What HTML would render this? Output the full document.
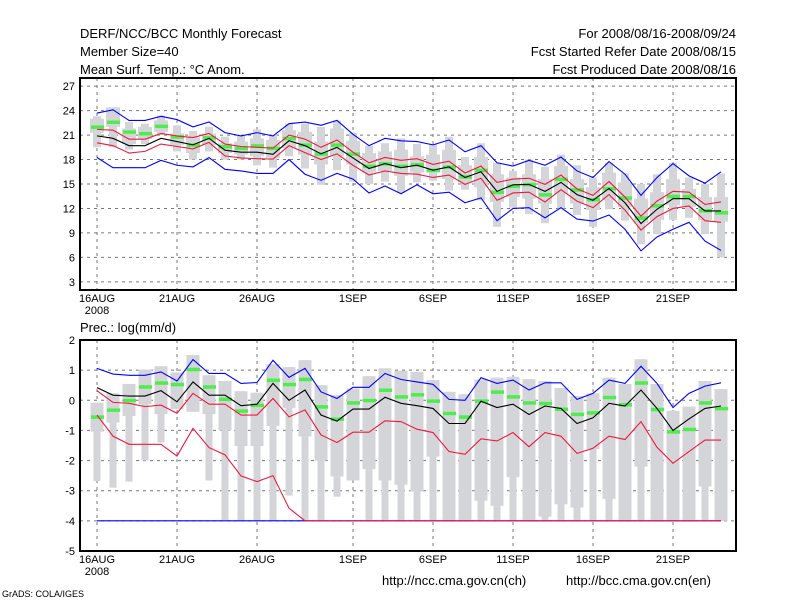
<!DOCTYPE html>
<html><head><meta charset="utf-8">
<style>
body{margin:0;background:#fff;}
svg{display:block;font-family:"Liberation Sans",sans-serif;}
</style></head>
<body>
<svg id="chart" width="800" height="600" viewBox="0 0 800 600">
<rect width="800" height="600" fill="#fff"/>
<g font-size="13" fill="#000">
<text x="80" y="38">DERF/NCC/BCC Monthly Forecast</text>
<text x="80" y="56">Member Size=40</text>
<text x="80" y="74">Mean Surf. Temp.: °C Anom.</text>
<text x="736" y="38" text-anchor="end">For 2008/08/16-2008/09/24</text>
<text x="736" y="56" text-anchor="end">Fcst Started Refer Date 2008/08/15</text>
<text x="736" y="74" text-anchor="end">Fcst Produced Date 2008/08/16</text>
<text x="80" y="332">Prec.: log(mm/d)</text>
<text x="382" y="585">http://ncc.cma.gov.cn(ch)</text>
<text x="566" y="585">http://bcc.cma.gov.cn(en)</text>
<text x="2" y="597" font-size="9">GrADS: COLA/IGES</text>
</g>
<g id="top"></g>
<g id="bot"></g>
</svg>
<script>
// ---- temperature panel data (days 0..39 from 16AUG)
const tMax=[23.3,24.4,22.6,22.4,23.4,22.2,21.5,22.0,20.8,20.9,21.7,21.0,22.4,22.4,22.0,22.8,21.3,19.7,20.0,20.6,19.9,19.9,20.8,18.3,20.0,17.6,16.6,18.0,17.1,18.6,17.3,15.8,17.6,16.3,15.0,16.2,17.6,15.8,15.0,16.3];
const tQ3=[23.0,24.4,21.8,22.0,22.8,21.2,20.7,21.2,20.0,20.2,20.6,20.4,21.6,21.4,20.2,21.8,20.3,18.8,19.0,19.2,18.4,18.6,19.2,17.3,18.3,16.2,15.8,16.2,15.6,17.2,15.6,14.6,16.4,15.2,13.2,14.0,15.6,14.4,13.4,13.4];
const tQ1=[21.3,22.0,19.9,20.5,21.4,19.8,18.8,19.8,18.8,18.6,18.4,18.2,19.4,18.6,17.4,18.4,17.4,16.4,16.6,16.0,16.4,16.4,15.6,15.2,14.6,12.8,13.4,13.2,12.6,13.8,12.6,11.8,13.0,12.2,10.2,10.6,12.4,12.2,10.6,10.4];
const tMin=[19.5,19.5,19.2,19.9,21.0,19.0,18.0,19.0,18.0,18.0,17.3,17.0,18.4,16.9,14.9,16.7,15.3,15.0,15.3,13.9,15.2,15.4,14.2,14.3,13.0,9.75,12.1,11.3,10.2,12.0,11.2,9.75,11.9,10.5,7.6,8.85,10.6,10.85,8.85,6.0];
const tGreen=[22.0,22.6,21.4,21.2,22.1,20.8,19.8,20.7,19.6,19.4,19.7,19.4,20.6,19.8,18.7,19.8,18.7,17.2,17.5,17.2,17.4,16.7,17.1,15.9,16.7,14.0,14.75,14.95,13.7,15.6,14.3,13.1,14.45,13.3,10.85,12.35,13.5,13.5,11.75,11.5];
const tMean=[20.9,20.6,19.7,19.7,20.6,20.2,19.8,20.6,19.15,18.9,18.9,18.65,20.3,19.7,18.7,19.5,18.2,16.9,17.5,17.0,17.3,16.7,17.1,15.8,16.5,14.1,14.9,14.95,14.1,15.2,13.7,13.0,14.45,12.7,10.15,11.9,13.2,13.2,11.7,11.7];
const tRedUp=[21.7,21.6,20.5,20.5,21.2,20.9,20.7,21.2,19.9,19.6,19.5,19.4,21.0,20.5,19.5,20.4,18.9,17.6,18.25,17.9,18.1,17.4,17.8,16.35,17.2,15.2,15.6,15.7,14.95,16.1,14.4,13.6,15.3,13.4,11.05,12.9,14.1,14.0,12.5,12.8];
const tRedLo=[20.05,19.7,18.8,19.0,19.9,19.6,19.3,20.1,18.45,18.2,18.1,18.05,19.7,18.85,18.0,18.7,17.3,16.1,16.6,16.3,16.2,15.8,16.1,14.95,15.7,13.0,13.9,14.0,12.8,14.3,12.9,12.1,13.7,11.8,9.35,11.0,12.0,12.3,10.5,10.3];
const tBlueUp=[23.7,24.1,22.8,22.8,23.3,22.9,22.0,22.6,21.3,20.9,21.3,20.9,22.4,22.6,22.2,22.8,21.1,19.7,20.6,20.3,20.2,19.8,20.4,18.95,19.7,17.6,17.2,17.9,17.3,18.3,16.6,15.8,17.75,16.2,13.6,15.8,17.5,16.0,15.1,16.5];
const tBlueLo=[18.25,17.0,17.0,17.0,17.9,17.3,17.1,18.25,16.8,16.6,16.3,16.3,18.0,16.2,15.45,16.3,15.6,13.9,14.75,13.8,14.9,13.8,14.0,12.7,13.3,10.5,12.0,12.1,10.85,12.1,10.7,10.45,11.2,9.45,6.8,8.5,9.45,10.3,8.0,6.85];
const tTicks=[3,6,9,12,15,18,21,24,27];
// ---- precipitation panel data
const pMax=[-0.08,0.23,0.54,1.02,1.13,0.92,1.5,0.83,0.64,0.3,0.25,1.2,1.1,1.33,0.5,0.17,0.39,0.8,1.06,0.98,0.94,0.67,0.28,0.2,0.69,0.75,0.78,0.7,0.64,0.41,0.14,0.23,0.75,0.54,1.36,0.54,-0.35,-0.21,0.64,0.37];
const pQ1=[-1.04,-0.74,-0.52,-0.13,-0.46,-0.29,-0.38,-0.46,-1.0,-1.52,-1.52,-0.85,-0.25,-1.2,-2.0,-2.53,-2.66,-2.28,-2.66,-2.8,-3.03,-1.87,-4,-4,-3.33,-3.5,-2.55,-4,-3.86,-3.45,-3.56,-1.62,-3.27,-4,-2.2,-4,-4,-4,-2.86,-4];
const pMin=[-2.68,-2.9,-2.7,-2.0,-1.4,-0.29,-0.38,-2.66,-3.97,-4,-4,-4,-3.16,-4,-4,-3.2,-2.66,-4,-4,-4,-4,-4,-4,-4,-4,-4,-4,-4,-4,-4,-4,-4,-4,-4,-4,-4,-4,-4,-4,-4];
const pGreen=[-0.55,-0.32,0,0.45,0.58,0.53,1.03,0.45,0.04,-0.35,-0.16,0.67,0.53,0.7,-0.21,-0.62,-0.08,0,0.34,0.12,0.19,-0.02,-0.43,-0.55,-0.02,0.28,0.12,-0.08,-0.1,-0.29,-0.46,-0.41,0.1,-0.14,0.58,-0.3,-1.04,-0.96,-0.08,-0.27];
const pMean=[0.42,0.17,0.14,0.14,0.32,-0.05,0.61,0.17,0.17,-0.18,-0.13,0.56,0,0.34,-0.49,-0.69,-0.29,-0.29,0.1,-0.1,-0.18,-0.27,-0.77,-0.77,-0.03,-0.24,-0.13,-0.47,-0.19,-0.27,-0.77,-0.58,-0.1,-0.19,0.34,-0.27,-1.0,-0.62,-0.27,-0.19];
const pRedUp=[0.32,-0.07,-0.1,-0.21,-0.16,-0.43,0.23,-0.13,-0.13,-0.49,-0.49,0.06,-0.55,-0.32,-1.15,-1.4,-1.06,-1.06,-0.68,-0.71,-0.96,-1.07,-1.7,-1.79,-1.28,-1.35,-1.07,-1.54,-1.07,-1.19,-1.76,-1.59,-1.19,-1.3,-0.71,-1.56,-2.09,-1.7,-1.32,-1.32];
const pRedLo=[-0.49,-1.19,-1.46,-1.46,-1.46,-1.85,-0.93,-1.57,-1.81,-2.51,-2.7,-2.5,-3.58,-4,-4,-4,-4,-4,-4,-4,-4,-4,-4,-4,-4,-4,-4,-4,-4,-4,-4,-4,-4,-4,-4,-4,-4,-4,-4,-4];
const pBlueUp=[1.06,0.87,0.83,0.83,0.94,0.64,1.35,0.89,0.89,0.56,0.59,1.33,0.76,1.06,0.28,0.06,0.43,0.43,0.89,0.69,0.61,0.53,0.03,0.0,0.75,0.56,0.67,0.34,0.58,0.58,0.03,0.23,0.67,0.56,1.13,0.56,-0.24,0.23,0.47,0.58];
const pBlueLo=[-4,-4,-4,-4,-4,-4,-4,-4,-4,-4,-4,-4,-4,-4,-4,-4,-4,-4,-4,-4,-4,-4,-4,-4,-4,-4,-4,-4,-4,-4,-4,-4,-4,-4,-4,-4,-4,-4,-4,-4];
const pTicks=[-5,-4,-3,-2,-1,0,1,2];
const xTickDays=[0,5,10,16,21,26,31,36];
const xTickLabels=["16AUG","21AUG","26AUG","1SEP","6SEP","11SEP","16SEP","21SEP"];

const NS="http://www.w3.org/2000/svg";
function mk(tag,attrs,parent){const e=document.createElementNS(NS,tag);for(const k in attrs)e.setAttribute(k,attrs[k]);parent.appendChild(e);return e;}
const X0=80,X1=736;
function xs(d){return 97+16*d;}

function panel(g,top,bot,vmin,vmax,ticks,mx,q3,q1,mn,green,mean,rU,rL,bU,bL,wide,narrow,prefix){
  const ys=v=>top+(vmax-v)*(bot-top)/(vmax-vmin);
  // grid
  ticks.forEach(t=>{
    if(t>vmin&&t<vmax){const l=mk('line',{x1:X0,x2:X1,y1:ys(t),y2:ys(t),stroke:'#777','stroke-dasharray':'3,4','stroke-width':1},g);
    }
    const tx=mk('text',{x:75,y:ys(t)+4,'text-anchor':'end','font-size':11},g);tx.textContent=t;
    
  });
  xTickDays.forEach((d,i)=>{
    const l=mk('line',{x1:xs(d),x2:xs(d),y1:top,y2:bot,stroke:'#777','stroke-dasharray':'3,4'},g);
    
    const tx=mk('text',{x:xs(d),y:bot+12,'text-anchor':'middle','font-size':11},g);tx.textContent=xTickLabels[i];
    
  });
  const yr=mk('text',{x:xs(0),y:bot+24,'text-anchor':'middle','font-size':11},g);yr.textContent='2008';
  
  // bars
  mx.forEach((v,d)=>{
    const r1=mk('rect',{x:xs(d)-narrow/2,y:ys(v),width:narrow,height:ys(mn[d])-ys(v),fill:'#d4d5d9'},g);
    
    const r2=mk('rect',{x:xs(d)-wide/2,y:ys(q3[d]),width:wide,height:ys(q1[d])-ys(q3[d]),fill:'#d4d5d9'},g);
    
  });
  green.forEach((v,d)=>{
    const r=mk('rect',{x:xs(d)-6,y:ys(v)-1.5,width:13,height:3.5,fill:'#4ded4d'},g);
    
  });
  function line(arr,col,name){
    const p=mk('polyline',{points:arr.map((v,d)=>xs(d)+','+ys(v)).join(' '),fill:'none',stroke:col,'stroke-width':1.1},g);
    
  }
  line(bU,'#0000ff',prefix+'-blue-upper');line(bL,'#0000ff',prefix+'-blue-lower');
  line(rU,'#f0183c',prefix+'-red-upper');line(rL,'#f0183c',prefix+'-red-lower');
  line(mean,'#000',prefix+'-mean-line');
  const f=mk('rect',{x:X0,y:top,width:X1-X0,height:bot-top,fill:'none',stroke:'#000','stroke-width':2},g);
  
}
panel(document.getElementById('top'),78,290,2,28,tTicks,tMax,tQ3,tQ1,tMin,tGreen,tMean,tRedUp,tRedLo,tBlueUp,tBlueLo,14,8,'temp');
panel(document.getElementById('bot'),340,551,-5,2,pTicks,pMax,pMax,pQ1,pMin,pGreen,pMean,pRedUp,pRedLo,pBlueUp,pBlueLo,13,7,'prec');
</script>
</body></html>
